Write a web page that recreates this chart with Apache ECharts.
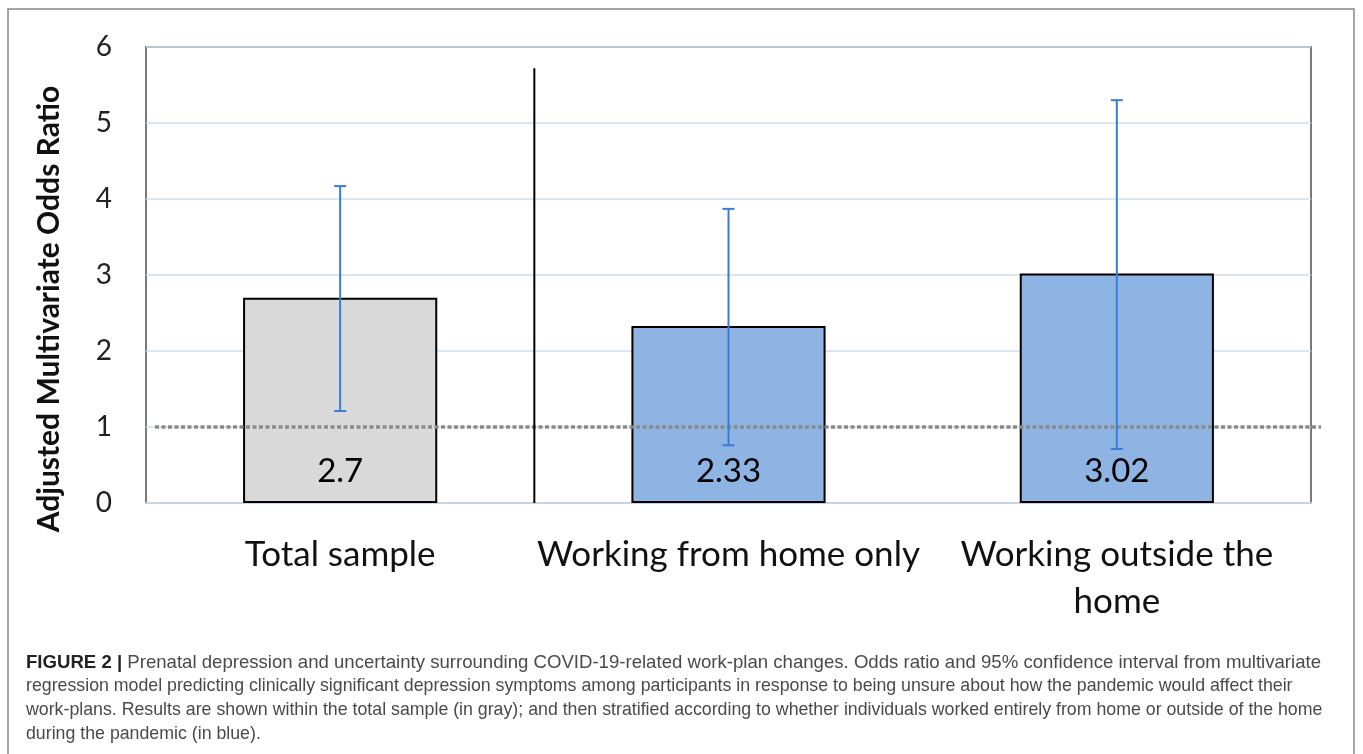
<!DOCTYPE html>
<html>
<head>
<meta charset="utf-8">
<script src="https://cdn.jsdelivr.net/npm/echarts@6/dist/echarts.min.js"></script>
<style>
html,body{margin:0;padding:0;background:#fff;}
#chart{width:1363px;height:754px;}
</style>
</head>
<body>
<div id="chart"></div>
<script>
// ---- data ----
const categories = ['Total sample', 'Working from home only', 'Working outside the\nhome'];
const oddsRatios = [2.7, 2.33, 3.02];
const ciLower = [1.21, 0.76, 0.71];
const ciUpper = [4.17, 3.87, 5.30];
const barColors = ['#d9d9d9', '#8eb4e3', '#8eb4e3'];
const yTicks = [0, 1, 2, 3, 4, 5, 6];
const referenceValue = [1];
const separatorTop = [5.72];
const captionLabel = 'FIGURE 2 |';
const captionLines = [
  'Prenatal depression and uncertainty surrounding COVID-19-related work-plan changes. Odds ratio and 95% confidence interval from multivariate',
  'regression model predicting clinically significant depression symptoms among participants in response to being unsure about how the pandemic would affect their',
  'work-plans. Results are shown within the total sample (in gray); and then stratified according to whether individuals worked entirely from home or outside of the home',
  'during the pandemic (in blue).'
];

const chart = echarts.init(document.getElementById('chart'));
const FONT = 'Lato, "Open Sans", sans-serif';
const CAPFONT = '"Liberation Sans", Arial, sans-serif';

const captionText = '{b|' + captionLabel + '}{a| ' + captionLines[0] + '}\n' +
  captionLines.slice(1).map(l => '{c|' + l + '}').join('\n');

const option = {
  animation: false,
  backgroundColor: '#fff',
  title: {
    left: 21,
    top: 646,
    text: captionText,
    textStyle: {
      fontFamily: CAPFONT,
      fontSize: 18,
      fontWeight: 'normal',
      color: '#4a4a4a',
      lineHeight: 23.7,
      rich: {
        b: { fontFamily: CAPFONT, fontSize: 18.6, fontWeight: 'bold', color: '#222', lineHeight: 23.7 },
        a: { fontFamily: CAPFONT, fontSize: 18.6, color: '#4a4a4a', lineHeight: 23.7 },
        c: { fontFamily: CAPFONT, fontSize: 17.75, color: '#4a4a4a', lineHeight: 23.7 }
      }
    }
  },
  graphic: [{
    type: 'rect',
    shape: { x: 8, y: 9, width: 1346, height: 760 },
    style: { fill: 'none', stroke: '#888', lineWidth: 1.5 },
    silent: true
  }],
  grid: {
    left: 146, top: 47, right: 52, bottom: 251,
    show: true, borderColor: '#7a7a7a', borderWidth: 2, backgroundColor: 'transparent'
  },
  xAxis: {
    type: 'category',
    data: categories,
    axisLine: { show: true, lineStyle: { color: '#c6d4e6', width: 2 } },
    axisTick: { show: false },
    axisLabel: {
      fontFamily: FONT, fontSize: 35, color: '#111', margin: 28, lineHeight: 47, interval: 0
    }
  },
  yAxis: {
    type: 'value',
    min: yTicks[0], max: yTicks[yTicks.length - 1], interval: yTicks[1] - yTicks[0],
    name: 'Adjusted Multivariate Odds Ratio',
    nameLocation: 'middle',
    nameGap: 82,
    nameTextStyle: { fontFamily: FONT, fontSize: 30, fontWeight: 'bold', color: '#111', padding: [0, 68, 0, 0] },
    axisLine: { show: false },
    axisTick: { show: false },
    axisLabel: { fontFamily: FONT, fontSize: 28, color: '#222', margin: 34 },
    splitLine: { lineStyle: { color: '#cfdef2', width: 1.5 } }
  },
  series: [
    {
      type: 'bar',
      barWidth: '50%',
      data: oddsRatios.map((v, i) => ({ value: v, itemStyle: { color: barColors[i] } })),
      itemStyle: { borderColor: '#000', borderWidth: 2 },
      label: {
        show: true, position: 'insideBottom', distance: 15,
        fontFamily: FONT, fontSize: 33, color: '#000'
      },
      z: 2
    },
    {
      type: 'custom',
      data: referenceValue.map(v => [v]),
      z: 3,
      renderItem: function (params, api) {
        const y = api.coord([0, api.value(0)])[1];
        const cs = params.coordSys;
        return {
          type: 'line',
          shape: { x1: cs.x + 9, y1: y, x2: cs.x + cs.width + 10, y2: y },
          style: { stroke: '#8a8a8a', lineWidth: 3.5, lineDash: [4, 2.5] }
        };
      }
    },
    {
      type: 'custom',
      data: separatorTop.map(v => [v]),
      z: 3,
      renderItem: function (params, api) {
        const a = api.coord([0, api.value(0)]);
        const b = api.coord([1, 0]);
        const x = (a[0] + b[0]) / 2;
        return {
          type: 'line',
          shape: { x1: x, y1: a[1], x2: x, y2: b[1] },
          style: { stroke: '#000', lineWidth: 2 }
        };
      }
    },
    {
      type: 'custom',
      data: categories.map((c, i) => [i, ciLower[i], ciUpper[i]]),
      z: 4,
      renderItem: function (params, api) {
        const i = api.value(0);
        const lo = api.coord([i, api.value(1)]);
        const hi = api.coord([i, api.value(2)]);
        const x = lo[0];
        const cap = 6;
        const st = { stroke: '#3a7bd5', lineWidth: 2 };
        return {
          type: 'group',
          children: [
            { type: 'line', shape: { x1: x, y1: hi[1], x2: x, y2: lo[1] }, style: st },
            { type: 'line', shape: { x1: x - cap, y1: hi[1], x2: x + cap, y2: hi[1] }, style: st },
            { type: 'line', shape: { x1: x - cap, y1: lo[1], x2: x + cap, y2: lo[1] }, style: st }
          ]
        };
      }
    }
  ]
};
chart.setOption(option);
</script>
</body>
</html>
